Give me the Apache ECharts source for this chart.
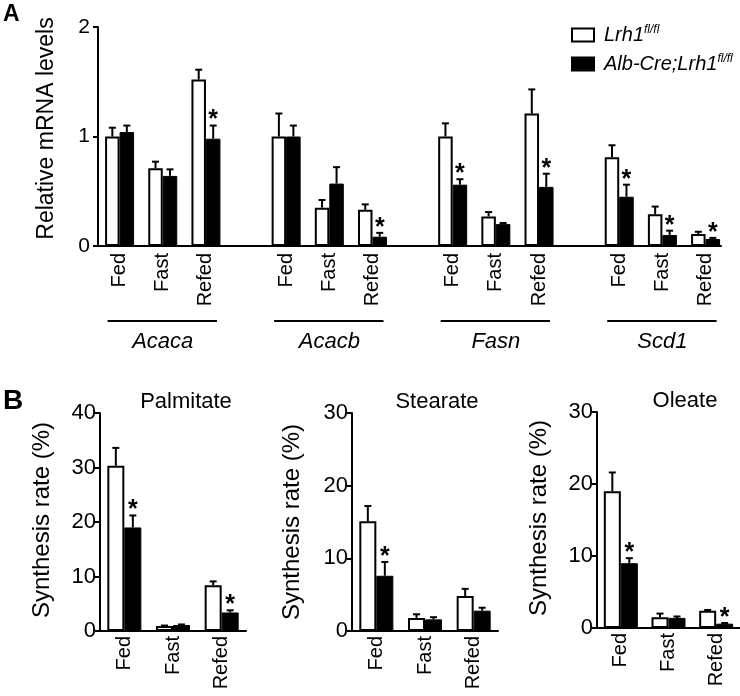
<!DOCTYPE html>
<html>
<head>
<meta charset="utf-8">
<script src="https://cdn.jsdelivr.net/npm/echarts@6/dist/echarts.min.js"></script>
<style>
  html, body { margin: 0; padding: 0; background: #fff; }
  #chart { width: 740px; height: 696px; }
</style>
</head>
<body>
<div id="chart"></div>
<script>
  // ---- data ----
  var genes = ['Acaca', 'Acacb', 'Fasn', 'Scd1']
  var conditions = ['Fed', 'Fast', 'Refed']
  var floxName = 'Lrh1'
  var koName = 'Alb-Cre;Lrh1'

  // panel A, gene by gene, Fed / Fast / Refed
  var mrnaFlox = [1.00, 0.71, 1.52, 1.00, 0.35, 0.33, 1.00, 0.27, 1.21, 0.81, 0.29, 0.11]
  var mrnaFloxErr = [0.08, 0.06, 0.09, 0.21, 0.07, 0.05, 0.12, 0.04, 0.22, 0.11, 0.07, 0.02]
  var mrnaKo = [1.04, 0.64, 0.98, 1.00, 0.57, 0.085, 0.56, 0.20, 0.54, 0.45, 0.10, 0.064]
  var mrnaKoErr = [0.06, 0.06, 0.12, 0.10, 0.15, 0.035, 0.05, 0.01, 0.12, 0.11, 0.04, 0.01]
  var mrnaStar = [0, 0, 1, 0, 0, 1, 1, 0, 1, 1, 1, 1]

  // panel B, Fed / Fast / Refed
  var palmFlox = [30.3, 0.9, 8.4]
  var palmFloxErr = [3.3, 0.1, 0.7]
  var palmKo = [19.0, 1.1, 3.4]
  var palmKoErr = [2.2, 0.1, 0.4]
  var palmStar = [1, 0, 1]

  var stearFlox = [15.1, 1.8, 4.8]
  var stearFloxErr = [2.1, 0.5, 1.0]
  var stearKo = [7.6, 1.6, 2.8]
  var stearKoErr = [1.9, 0.3, 0.4]
  var stearStar = [1, 0, 0]

  var oleFlox = [19.0, 1.5, 2.4]
  var oleFloxErr = [2.6, 0.5, 0.1]
  var oleKo = [9.0, 1.4, 0.6]
  var oleKoErr = [0.7, 0.2, 0.1]
  var oleStar = [1, 0, 1]

  var FONT = "'Liberation Sans', Arial, sans-serif"

  // panel A slots: genes sit further apart than conditions
  var PAD = 3, GENE_STEP = 27, COND_STEP = 7, N_SLOTS = 101
  function slotOf (g, c) {
    return PAD + g * GENE_STEP + c * COND_STEP
  }

  var slotNames = []
  for (var i = 0; i < N_SLOTS; i++) slotNames.push('')
  var slotFlox = slotNames.map(function () { return '-' })
  var slotKo = slotNames.map(function () { return '-' })
  var errA = []
  var geneSpans = []
  for (var g = 0; g < genes.length; g++) {
    for (var c = 0; c < conditions.length; c++) {
      var k = g * conditions.length + c
      var s = slotOf(g, c)
      slotNames[s] = conditions[c]
      slotFlox[s] = mrnaFlox[k]
      slotKo[s] = mrnaKo[k]
      errA.push([s, mrnaFlox[k], mrnaFlox[k] + mrnaFloxErr[k], -1, 0])
      errA.push([s, mrnaKo[k], mrnaKo[k] + mrnaKoErr[k], 1, mrnaStar[k]])
    }
    geneSpans.push([slotOf(g, 0), slotOf(g, 2), g, 0])
  }

  function errData (flox, floxErr, ko, koErr, star) {
    var res = []
    for (var i = 0; i < flox.length; i++) {
      res.push([i, flox[i], flox[i] + floxErr[i], -1, 0])
      res.push([i, ko[i], ko[i] + koErr[i], 1, star[i]])
    }
    return res
  }

  // error bar (upper only) + significance star
  function errorBarItem (barW) {
    return function (params, api) {
      var base = api.coord([api.value(0), api.value(1)])
      var tip = api.coord([api.value(0), api.value(2)])
      var x = base[0] + api.value(3) * barW / 2
      var children = [
        {type: 'line', shape: {x1: x, y1: base[1], x2: x, y2: tip[1]}, style: {stroke: '#000', lineWidth: 2}},
        {type: 'line', shape: {x1: x - 3.5, y1: tip[1], x2: x + 3.5, y2: tip[1]}, style: {stroke: '#000', lineWidth: 2}}
      ]
      if (api.value(4)) {
        children.push({
          type: 'text',
          style: {text: '*', x: x, y: tip[1] - 5, align: 'center', verticalAlign: 'middle',
            fontSize: 25, fontWeight: 'bold', fontFamily: FONT, fill: '#000'}
        })
      }
      return {type: 'group', children: children}
    }
  }

  // gene name with line above it
  function geneItem (params, api) {
    var p0 = api.coord([api.value(0), 0])
    var p2 = api.coord([api.value(1), 0])
    var y = p0[1]
    return {
      type: 'group',
      children: [
        {type: 'line', shape: {x1: p0[0] - 12, y1: y + 75, x2: p2[0] + 11, y2: y + 75}, style: {stroke: '#000', lineWidth: 2}},
        {type: 'text', style: {text: genes[api.value(2)], x: (p0[0] + p2[0]) / 2, y: y + 96, align: 'center',
          verticalAlign: 'middle', fontSize: 22, fontStyle: 'italic', fontFamily: FONT, fill: '#000'}}
      ]
    }
  }

  var whiteBar = {color: '#fff', borderColor: '#000', borderWidth: 2}
  var blackBar = {color: '#000', borderColor: '#000', borderWidth: 1}

  function catAxis (idx, data, fontSize, margin) {
    return {
      type: 'category', gridIndex: idx, data: data,
      axisLine: {lineStyle: {color: '#000', width: 2}},
      axisTick: {show: false},
      axisLabel: {interval: 0, rotate: 90, color: '#000', fontSize: fontSize, fontFamily: FONT, margin: margin}
    }
  }

  function valAxis (idx, max, interval, name, fontSize, nameSize, nameGap, margin, shift) {
    return {
      type: 'value', gridIndex: idx, min: 0, max: max, interval: interval,
      name: name, nameLocation: 'middle', nameGap: nameGap, nameRotate: 90,
      nameTextStyle: {color: '#000', fontSize: nameSize, fontFamily: FONT, padding: [0, 0, 0, shift]},
      splitLine: {show: false},
      axisLine: {show: true, lineStyle: {color: '#000', width: 2}},
      axisTick: {show: true, length: 5, lineStyle: {color: '#000', width: 2}},
      axisLabel: {color: '#000', fontSize: fontSize, fontFamily: FONT, margin: margin}
    }
  }

  var chart = echarts.init(document.getElementById('chart'))
  chart.setOption({
    animation: false,
    backgroundColor: '#fff',
    title: [
      {text: 'A', left: 3, top: 3, padding: 0, textStyle: {fontSize: 23, fontWeight: 'bold', fontFamily: FONT, color: '#000'}},
      {text: 'B', left: 3, top: 387, padding: 0, textStyle: {fontSize: 28, fontWeight: 'bold', fontFamily: FONT, color: '#000'}},
      {text: 'Palmitate', left: 186, top: 391, padding: 0, textAlign: 'center', textStyle: {fontSize: 22, fontWeight: 'normal', fontFamily: FONT, color: '#000'}},
      {text: 'Stearate', left: 437, top: 391, padding: 0, textAlign: 'center', textStyle: {fontSize: 22, fontWeight: 'normal', fontFamily: FONT, color: '#000'}},
      {text: 'Oleate', left: 685, top: 390, padding: 0, textAlign: 'center', textStyle: {fontSize: 22, fontWeight: 'normal', fontFamily: FONT, color: '#000'}}
    ],
    legend: {
      orient: 'vertical', left: 566, top: 19, itemWidth: 22, itemHeight: 13, itemGap: 7,
      selectedMode: false, icon: 'rect',
      data: [floxName, koName],
      formatter: function (name) { return '{i|' + name + '}{s|fl/fl}' },
      textStyle: {
        rich: {
          i: {fontSize: 20, fontStyle: 'italic', fontFamily: FONT, color: '#000', lineHeight: 20, padding: [0, 0, 0, 5]},
          s: {fontSize: 12, fontStyle: 'italic', fontFamily: FONT, color: '#000', lineHeight: 20, padding: [0, 0, 10, 0]}
        }
      }
    },
    grid: [
      {left: 98, top: 27, width: 623, height: 219},
      {left: 100, top: 413, width: 146, height: 218},
      {left: 352, top: 413, width: 146, height: 218},
      {left: 597, top: 412, width: 147, height: 216}
    ],
    xAxis: [
      catAxis(0, slotNames, 20, 7),
      catAxis(1, conditions, 20, 5),
      catAxis(2, conditions, 20, 5),
      catAxis(3, conditions, 20, 5)
    ],
    yAxis: [
      valAxis(0, 2, 1, 'Relative mRNA levels', 21, 23, 40, 8, 16),
      valAxis(1, 40, 10, 'Synthesis rate (%)', 22, 24, 46, 4, 4),
      valAxis(2, 30, 10, 'Synthesis rate (%)', 22, 24, 48, 4, 0),
      valAxis(3, 30, 10, 'Synthesis rate (%)', 22, 24, 46, 4, 4)
    ],
    series: [
      {name: floxName, type: 'bar', xAxisIndex: 0, yAxisIndex: 0, barWidth: 14.5, barGap: 0, itemStyle: whiteBar, data: slotFlox},
      {name: koName, type: 'bar', xAxisIndex: 0, yAxisIndex: 0, barWidth: 14.5, barGap: 0, itemStyle: blackBar, data: slotKo},
      {type: 'custom', xAxisIndex: 0, yAxisIndex: 0, renderItem: errorBarItem(14.5), encode: {x: 0, y: 2}, data: errA, z: 5},
      {type: 'custom', xAxisIndex: 0, yAxisIndex: 0, renderItem: geneItem, encode: {x: [0, 1], y: 3}, data: geneSpans, clip: false},

      {name: floxName, type: 'bar', xAxisIndex: 1, yAxisIndex: 1, barWidth: 17, barGap: 0, itemStyle: whiteBar, data: palmFlox},
      {name: koName, type: 'bar', xAxisIndex: 1, yAxisIndex: 1, barWidth: 17, barGap: 0, itemStyle: blackBar, data: palmKo},
      {type: 'custom', xAxisIndex: 1, yAxisIndex: 1, renderItem: errorBarItem(17), encode: {x: 0, y: 2}, z: 5,
        data: errData(palmFlox, palmFloxErr, palmKo, palmKoErr, palmStar)},

      {name: floxName, type: 'bar', xAxisIndex: 2, yAxisIndex: 2, barWidth: 17, barGap: 0, itemStyle: whiteBar, data: stearFlox},
      {name: koName, type: 'bar', xAxisIndex: 2, yAxisIndex: 2, barWidth: 17, barGap: 0, itemStyle: blackBar, data: stearKo},
      {type: 'custom', xAxisIndex: 2, yAxisIndex: 2, renderItem: errorBarItem(17), encode: {x: 0, y: 2}, z: 5,
        data: errData(stearFlox, stearFloxErr, stearKo, stearKoErr, stearStar)},

      {name: floxName, type: 'bar', xAxisIndex: 3, yAxisIndex: 3, barWidth: 17, barGap: 0, itemStyle: whiteBar, data: oleFlox},
      {name: koName, type: 'bar', xAxisIndex: 3, yAxisIndex: 3, barWidth: 17, barGap: 0, itemStyle: blackBar, data: oleKo},
      {type: 'custom', xAxisIndex: 3, yAxisIndex: 3, renderItem: errorBarItem(17), encode: {x: 0, y: 2}, z: 5,
        data: errData(oleFlox, oleFloxErr, oleKo, oleKoErr, oleStar)}
    ]
  })
</script>
</body>
</html>
